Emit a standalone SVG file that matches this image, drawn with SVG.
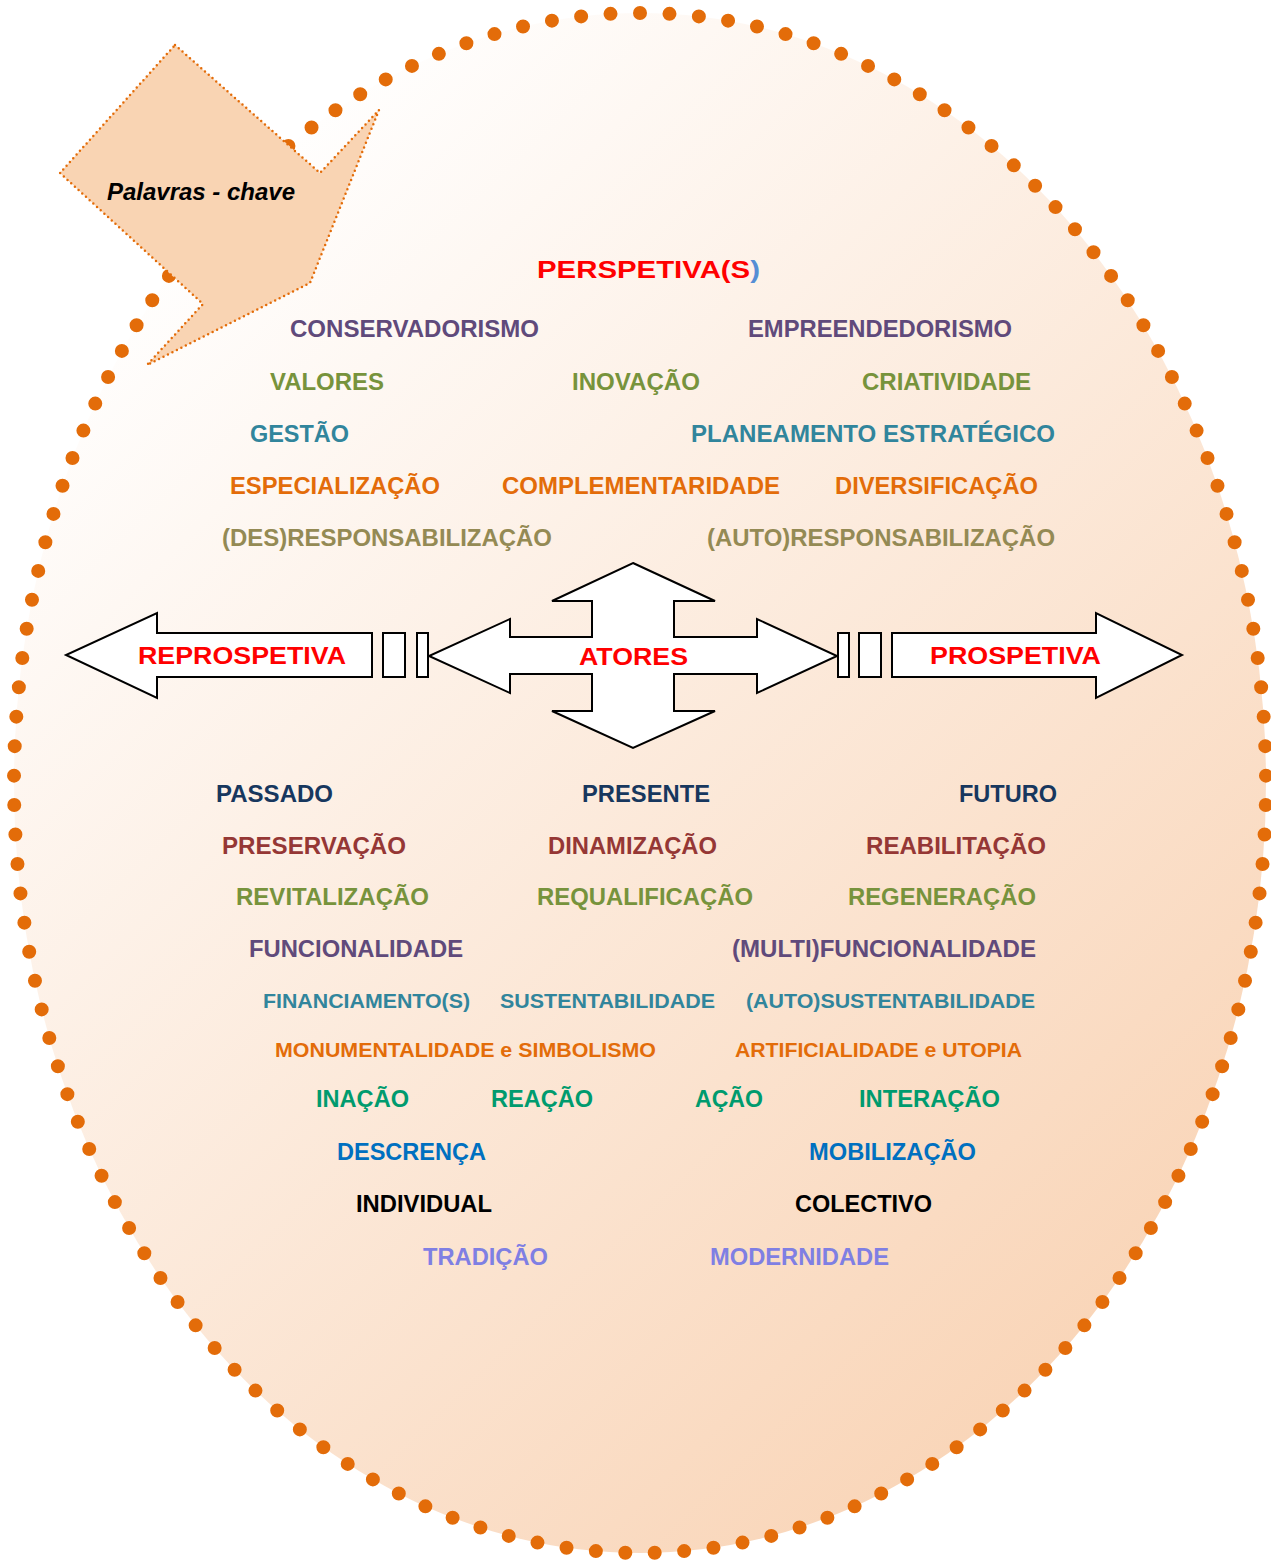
<svg xmlns="http://www.w3.org/2000/svg" width="1271" height="1560" viewBox="0 0 1271 1560">
  <defs>
    <linearGradient id="ovalFill" gradientUnits="userSpaceOnUse" x1="120" y1="260" x2="1160" y2="1340">
      <stop offset="0" stop-color="#FFFFFF"/>
      <stop offset="1" stop-color="#F9D4B6"/>
    </linearGradient>
    <style>
      .t { font-family: "Liberation Sans", Arial, sans-serif; font-weight: bold; font-size: 24px; }
      .s { font-size: 21px; }
      .shape { fill: #FFFFFF; stroke: #000000; stroke-width: 2; stroke-linejoin: miter; }
      .red { fill: #FF0000; }
      .purple { fill: #604A7B; }
      .green { fill: #77933C; }
      .teal { fill: #31859C; }
      .orange { fill: #E36C09; }
      .olive { fill: #948A54; }
      .navy { fill: #17375E; }
      .brick { fill: #953735; }
      .jade { fill: #009B6E; }
      .blue { fill: #0070C0; }
      .black { fill: #000000; }
      .lilac { fill: #7F7FE3; }
    </style>
  </defs>

  <rect width="1271" height="1560" fill="#FFFFFF"/>

  <!-- dotted oval -->
  <g id="oval">
    <ellipse cx="640" cy="783" rx="626" ry="770" fill="url(#ovalFill)"/>
    <path d="M640,13 A626,770 0 1 1 640,1553 A626,770 0 1 1 640,13 Z" pathLength="149" fill="none" stroke="#E36C09" stroke-width="14" stroke-linecap="round" stroke-dasharray="0 1"/>
  </g>

  <!-- callout -->
  <g id="callout">
    <polygon points="175,45 320,173 379,110 310,283 147,365 203,304 60,173" fill="#F9D4B3" stroke="#E36C09" stroke-width="2.5" stroke-linecap="round" stroke-dasharray="0 5"/>
    <text x="107" y="200" font-family="Liberation Sans, Arial, sans-serif" font-weight="bold" font-style="italic" font-size="23" fill="#000000" textLength="188" lengthAdjust="spacingAndGlyphs">Palavras - chave</text>
  </g>

  <!-- arrows -->
  <g id="connectors">
    <polygon id="arrow-center" class="shape" points="633,563 715,601 674,601 674,637 757,637 757,619 837,656 757,693 757,674 674,674 674,711 715,711 633,748 552,711 592,711 592,674 510,674 510,693 429,656 510,619 510,637 592,637 592,601 552,601"/>
    <polygon id="arrow-left" class="shape" points="372,633 157,633 157,613 66,655 157,698 157,677 372,677"/>
    <rect class="shape" x="383" y="633" width="22" height="44"/>
    <rect class="shape" x="417" y="633" width="11" height="44"/>
    <rect class="shape" x="838" y="633" width="11" height="44"/>
    <rect class="shape" x="859" y="633" width="22" height="44"/>
    <polygon id="arrow-right" class="shape" points="892,633 1096,633 1096,613 1182,655 1096,698 1096,677 892,677"/>
  </g>

  <g id="node-reprospetiva"><text class="t red" x="138" y="664" font-size="26" textLength="208" lengthAdjust="spacingAndGlyphs">REPROSPETIVA</text></g>
  <g id="node-atores"><text class="t red" x="579" y="665" font-size="26" textLength="109" lengthAdjust="spacingAndGlyphs">ATORES</text></g>
  <g id="node-prospetiva"><text class="t red" x="930" y="664" font-size="26" textLength="171" lengthAdjust="spacingAndGlyphs">PROSPETIVA</text></g>

  <!-- upper keywords -->
  <g id="node-perspetivas"><text class="t" x="537" y="278" font-size="29" textLength="223" lengthAdjust="spacingAndGlyphs"><tspan class="red">PERSPETIVA(S</tspan><tspan fill="#558ED5">)</tspan></text></g>

  <g id="upper">
    <text class="t purple" x="290" y="337" textLength="249" lengthAdjust="spacingAndGlyphs">CONSERVADORISMO</text>
    <text class="t purple" x="748" y="337" textLength="264" lengthAdjust="spacingAndGlyphs">EMPREENDEDORISMO</text>

    <text class="t green" x="270" y="390" textLength="114" lengthAdjust="spacingAndGlyphs">VALORES</text>
    <text class="t green" x="572" y="390" textLength="128" lengthAdjust="spacingAndGlyphs">INOVAÇÃO</text>
    <text class="t green" x="862" y="390" textLength="169" lengthAdjust="spacingAndGlyphs">CRIATIVIDADE</text>

    <text class="t teal" x="250" y="442" textLength="99" lengthAdjust="spacingAndGlyphs">GESTÃO</text>
    <text class="t teal" x="691" y="442" textLength="364" lengthAdjust="spacingAndGlyphs">PLANEAMENTO ESTRATÉGICO</text>

    <text class="t orange" x="230" y="494" textLength="210" lengthAdjust="spacingAndGlyphs">ESPECIALIZAÇÃO</text>
    <text class="t orange" x="502" y="494" textLength="278" lengthAdjust="spacingAndGlyphs">COMPLEMENTARIDADE</text>
    <text class="t orange" x="835" y="494" textLength="203" lengthAdjust="spacingAndGlyphs">DIVERSIFICAÇÃO</text>

    <text class="t olive" x="222" y="546" textLength="330" lengthAdjust="spacingAndGlyphs">(DES)RESPONSABILIZAÇÃO</text>
    <text class="t olive" x="707" y="546" textLength="348" lengthAdjust="spacingAndGlyphs">(AUTO)RESPONSABILIZAÇÃO</text>
  </g>

  <!-- lower keywords -->
  <g id="lower">
    <text class="t navy" x="216" y="802" textLength="117" lengthAdjust="spacingAndGlyphs">PASSADO</text>
    <text class="t navy" x="582" y="802" textLength="128" lengthAdjust="spacingAndGlyphs">PRESENTE</text>
    <text class="t navy" x="959" y="802" textLength="98" lengthAdjust="spacingAndGlyphs">FUTURO</text>

    <text class="t brick" x="222" y="854" textLength="184" lengthAdjust="spacingAndGlyphs">PRESERVAÇÃO</text>
    <text class="t brick" x="548" y="854" textLength="169" lengthAdjust="spacingAndGlyphs">DINAMIZAÇÃO</text>
    <text class="t brick" x="866" y="854" textLength="180" lengthAdjust="spacingAndGlyphs">REABILITAÇÃO</text>

    <text class="t green" x="236" y="905" textLength="193" lengthAdjust="spacingAndGlyphs">REVITALIZAÇÃO</text>
    <text class="t green" x="537" y="905" textLength="216" lengthAdjust="spacingAndGlyphs">REQUALIFICAÇÃO</text>
    <text class="t green" x="848" y="905" textLength="188" lengthAdjust="spacingAndGlyphs">REGENERAÇÃO</text>

    <text class="t purple" x="249" y="957" textLength="214" lengthAdjust="spacingAndGlyphs">FUNCIONALIDADE</text>
    <text class="t purple" x="732" y="957" textLength="304" lengthAdjust="spacingAndGlyphs">(MULTI)FUNCIONALIDADE</text>

    <text class="t s teal" x="263" y="1008" textLength="207" lengthAdjust="spacingAndGlyphs">FINANCIAMENTO(S)</text>
    <text class="t s teal" x="500" y="1008" textLength="215" lengthAdjust="spacingAndGlyphs">SUSTENTABILIDADE</text>
    <text class="t s teal" x="746" y="1008" textLength="289" lengthAdjust="spacingAndGlyphs">(AUTO)SUSTENTABILIDADE</text>

    <text class="t s orange" x="275" y="1057" textLength="381" lengthAdjust="spacingAndGlyphs">MONUMENTALIDADE e SIMBOLISMO</text>
    <text class="t s orange" x="735" y="1057" textLength="287" lengthAdjust="spacingAndGlyphs">ARTIFICIALIDADE e UTOPIA</text>

    <text class="t jade" x="316" y="1107" textLength="93" lengthAdjust="spacingAndGlyphs">INAÇÃO</text>
    <text class="t jade" x="491" y="1107" textLength="102" lengthAdjust="spacingAndGlyphs">REAÇÃO</text>
    <text class="t jade" x="695" y="1107" textLength="68" lengthAdjust="spacingAndGlyphs">AÇÃO</text>
    <text class="t jade" x="859" y="1107" textLength="141" lengthAdjust="spacingAndGlyphs">INTERAÇÃO</text>

    <text class="t blue" x="337" y="1160" textLength="149" lengthAdjust="spacingAndGlyphs">DESCRENÇA</text>
    <text class="t blue" x="809" y="1160" textLength="167" lengthAdjust="spacingAndGlyphs">MOBILIZAÇÃO</text>

    <text class="t black" x="356" y="1212" textLength="136" lengthAdjust="spacingAndGlyphs">INDIVIDUAL</text>
    <text class="t black" x="795" y="1212" textLength="137" lengthAdjust="spacingAndGlyphs">COLECTIVO</text>

    <text class="t lilac" x="423" y="1265" textLength="125" lengthAdjust="spacingAndGlyphs">TRADIÇÃO</text>
    <text class="t lilac" x="710" y="1265" textLength="179" lengthAdjust="spacingAndGlyphs">MODERNIDADE</text>
  </g>
</svg>
